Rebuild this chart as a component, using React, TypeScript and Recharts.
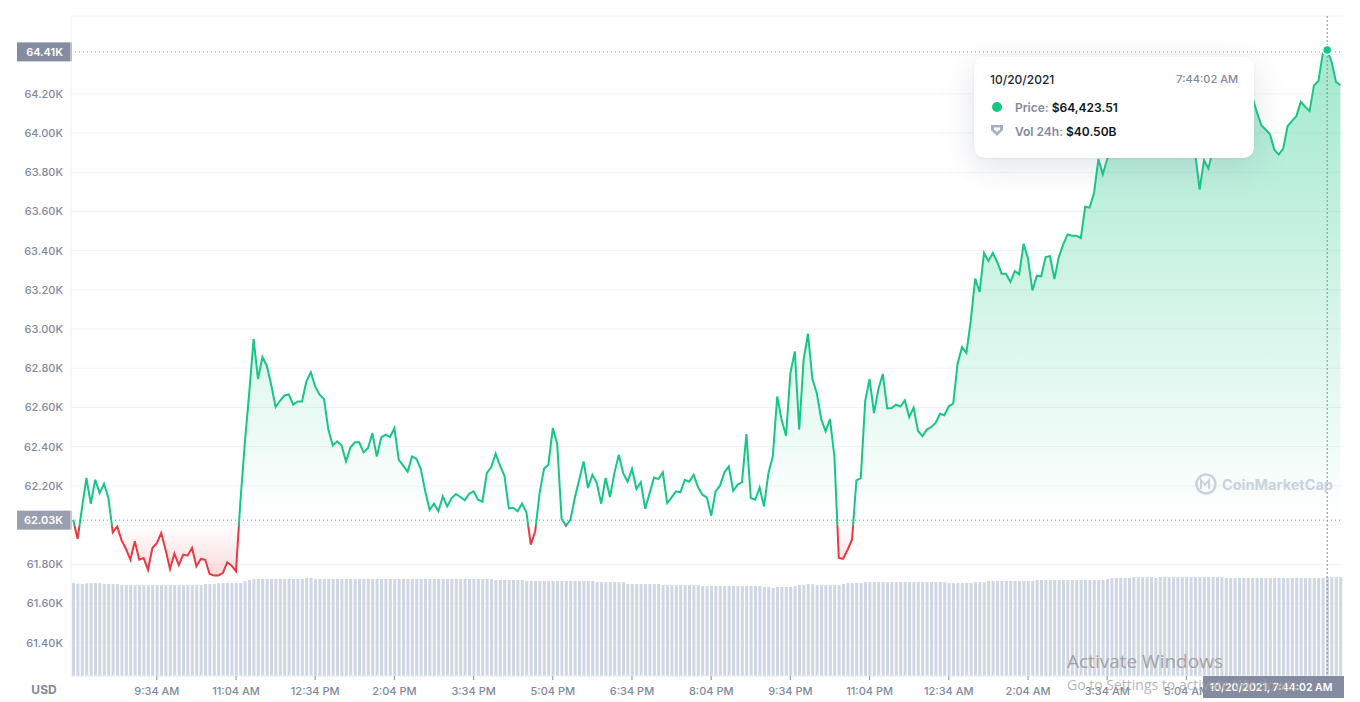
import { Area, Bar, CartesianGrid, ComposedChart, ReferenceLine, Tooltip, XAxis, YAxis } from 'recharts';

// BTC price, one reading every 5 minutes (USD). The stretch behind the tooltip is a guess.
const prices = [
  62027, 61929, 62087, 62240, 62109, 62231, 62163, 62211, 62138, 61963,
  61993, 61922, 61878, 61823, 61917, 61823, 61832, 61772, 61883, 61908,
  61959, 61874, 61776, 61854, 61796, 61849, 61844, 61883, 61789, 61827,
  61823, 61750, 61743, 61743, 61755, 61810, 61793, 61764, 62121, 62418,
  62673, 62949, 62745, 62857, 62813, 62716, 62602, 62634, 62661, 62666,
  62614, 62631, 62631, 62733, 62780, 62707, 62665, 62643, 62486, 62406,
  62427, 62406, 62325, 62396, 62422, 62422, 62371, 62393, 62469, 62350,
  62447, 62461, 62449, 62495, 62333, 62303, 62272, 62350, 62338, 62286,
  62172, 62078, 62109, 62070, 62146, 62095, 62138, 62158, 62143, 62126,
  62160, 62172, 62129, 62119, 62265, 62296, 62364, 62303, 62253, 62085,
  62088, 62071, 62110, 62065, 61900, 61968, 62163, 62287, 62308, 62495,
  62415, 62031, 61997, 62027, 62138, 62231, 62325, 62189, 62257, 62214,
  62109, 62240, 62143, 62265, 62359, 62265, 62221, 62286, 62184, 62219,
  62083, 62163, 62243, 62235, 62269, 62112, 62141, 62172, 62167, 62231,
  62221, 62257, 62194, 62155, 62141, 62048, 62172, 62201, 62269, 62299,
  62175, 62206, 62219, 62464, 62138, 62129, 62192, 62095, 62265, 62350,
  62656, 62537, 62456, 62775, 62886, 62486, 62843, 62976, 62745, 62673,
  62541, 62478, 62541, 62350, 61832, 61828, 61874, 61925, 62228, 62240,
  62634, 62745, 62571, 62694, 62770, 62595, 62597, 62614, 62605, 62636,
  62551, 62599, 62480, 62454, 62487, 62500, 62521, 62568, 62560, 62606,
  62619, 62823, 62908, 62878, 63044, 63257, 63189, 63388, 63347, 63388,
  63342, 63282, 63282, 63240, 63296, 63279, 63435, 63359, 63197, 63272,
  63269, 63367, 63372, 63255, 63367, 63432, 63483, 63476, 63476, 63464,
  63624, 63620, 63692, 63867, 63789, 63867, 63921, 63964, 63998, 64040,
  64023, 64066, 64100, 64074, 64117, 64142, 64117, 64134, 64100, 64125,
  64083, 64049, 64015, 63981, 63955, 63896, 63712, 63862, 63819, 63913,
  63964, 64006, 64049, 64083, 64117, 64151, 64176, 64193, 64181, 64108,
  64040, 64018, 63994, 63913, 63891, 63921, 64035, 64062, 64086, 64159,
  64134, 64112, 64244, 64265, 64406, 64423.51, 64363, 64261, 64244,
];

// 24h volume in billions
const volumes = [
  38.0, 37.8, 37.6, 37.9, 38.0, 38.0, 38.0, 37.7, 37.7, 37.6,
  37.6, 37.2, 37.2, 37.2, 37.2, 37.2, 37.2, 37.2, 37.2, 37.2,
  37.2, 37.2, 37.2, 37.2, 37.2, 37.2, 37.2, 37.2, 37.2, 37.2,
  37.6, 37.6, 37.6, 38.0, 38.0, 38.0, 38.0, 38.0, 38.0, 38.9,
  39.3, 39.7, 39.7, 39.7, 39.7, 39.7, 39.7, 39.7, 39.7, 39.7,
  39.7, 39.7, 39.7, 40.1, 40.1, 39.7, 39.7, 39.7, 39.7, 39.7,
  39.7, 39.7, 39.7, 39.7, 39.7, 39.7, 39.7, 39.7, 39.7, 39.7,
  39.7, 39.7, 39.7, 39.7, 39.7, 39.7, 39.7, 39.7, 39.7, 39.7,
  39.7, 39.7, 39.7, 39.7, 39.7, 39.7, 39.7, 39.7, 39.7, 39.7,
  39.7, 39.7, 39.7, 39.7, 39.7, 39.7, 39.3, 39.3, 39.3, 39.3,
  39.3, 39.3, 39.3, 38.9, 38.9, 38.9, 38.9, 38.9, 38.9, 38.9,
  38.9, 38.9, 38.9, 38.9, 38.9, 38.9, 38.9, 38.9, 38.9, 38.4,
  38.4, 38.4, 38.4, 38.4, 38.4, 38.4, 37.6, 37.6, 37.6, 37.6,
  37.6, 37.6, 37.6, 37.6, 37.2, 37.2, 37.2, 37.2, 37.2, 37.2,
  37.2, 37.2, 37.2, 36.8, 36.8, 36.8, 36.8, 36.8, 36.8, 36.8,
  36.8, 36.8, 36.8, 36.8, 36.8, 36.8, 36.8, 36.4, 36.4, 36.0,
  36.4, 36.4, 36.4, 36.4, 36.8, 37.2, 37.2, 37.6, 37.6, 37.2,
  37.2, 37.2, 37.2, 37.2, 37.2, 37.6, 38.0, 38.0, 38.0, 38.0,
  38.4, 38.4, 38.4, 38.4, 38.4, 38.4, 38.4, 38.4, 38.4, 38.4,
  38.4, 38.4, 38.4, 38.4, 38.4, 38.4, 38.4, 38.4, 38.4, 38.0,
  38.0, 38.0, 38.0, 38.0, 38.0, 38.4, 38.4, 38.4, 38.9, 38.9,
  38.9, 38.9, 38.9, 38.9, 38.9, 38.9, 38.9, 38.9, 38.9, 39.3,
  39.3, 39.3, 39.3, 39.3, 39.3, 39.3, 39.3, 39.3, 39.3, 39.3,
  39.3, 39.3, 39.3, 39.3, 39.3, 39.7, 40.1, 40.1, 40.1, 40.1,
  40.1, 40.5, 40.5, 40.5, 40.5, 40.5, 40.1, 40.5, 40.5, 40.5,
  40.5, 40.5, 40.5, 40.5, 40.5, 40.5, 40.5, 40.5, 40.5, 40.5,
  40.5, 40.5, 40.1, 40.1, 40.1, 40.1, 40.1, 40.1, 40.1, 40.1,
  40.1, 40.1, 40.1, 40.1, 40.1, 40.1, 40.1, 40.1, 40.1, 40.1,
  40.1, 40.1, 40.1, 40.1, 40.1, 40.50, 40.5, 40.5, 40.5,
];

const priceTicks = [61400, 61600, 61800, 62000, 62200, 62400, 62600, 62800, 63000, 63200, 63400, 63600, 63800, 64000, 64200, 64400];
const timeSlots = [19, 37, 55, 73, 91, 109, 127, 145, 163, 181, 199, 217, 235, 253, 271];
const timeLabels = ['9:34 AM', '11:04 AM', '12:34 PM', '2:04 PM', '3:34 PM', '5:04 PM', '6:34 PM', '8:04 PM', '9:34 PM', '11:04 PM', '12:34 AM', '2:04 AM', '3:34 AM', '5:04 AM', '6:34 AM'];

const openPrice = 62025;
const highLabelPrice = 64414;
const hoverSlot = 285;

const chartData = prices.map((price, slot) => ({ slot, price, volume: volumes[slot] }));

const FONT = 'Inter, "Noto Sans", sans-serif';
const GREY = '#808a9d';
const GREEN = '#16c784';
const RED = '#ea3943';
const BADGE = '#858ca2';

const tickStyle = { fill: GREY, fontSize: 11, fontWeight: 500, fontFamily: FONT };

function PriceBadge({ viewBox, text, fill }: any) {
  const y = viewBox.y;
  return (
    <g>
      <rect x={17} y={y - 9.5} width={55} height={19} fill={fill} />
      <text x={63} y={y + 4} textAnchor="end" fill="#fff" fontSize={11} fontWeight={600} fontFamily={FONT}>{text}</text>
    </g>
  );
}

function HoverCard({ active, payload }: any) {
  if (!active || !payload || !payload.length) return null;
  const row = payload[0].payload;
  const label = { color: GREY, fontWeight: 600 };
  const value = { color: '#0d1421', fontWeight: 600 };
  return (
    <div style={{ width: 280, height: 101, boxSizing: 'border-box', background: '#fff', borderRadius: 10, boxShadow: '0 1px 2px rgba(128,138,157,0.12), 0 8px 32px rgba(128,138,157,0.24)', fontFamily: FONT, fontSize: 12, position: 'relative' }}>
      <div style={{ position: 'absolute', left: 16, top: 15, color: '#222531', fontWeight: 500 }}>10/20/2021</div>
      <div style={{ position: 'absolute', right: 16, top: 15, color: GREY, fontWeight: 500, fontSize: 11 }}>7:44:02 AM</div>
      <div style={{ position: 'absolute', left: 18, top: 45, width: 10, height: 10, borderRadius: 5, background: GREEN }} />
      <div style={{ position: 'absolute', left: 41, top: 43 }}>
        <span style={label}>Price: </span>
        <span style={value}>${row.price.toLocaleString('en-US', { minimumFractionDigits: 2 })}</span>
      </div>
      <svg style={{ position: 'absolute', left: 16, top: 67 }} width={14} height={14} viewBox="0 0 14 14">
        <path d="M1 1 H13 V6 L7 12 L1 6 Z" fill="#a6b0c3" />
        <path d="M4 3.5 H10 V5.5 L7 8 L4 5.5 Z" fill="#fff" />
      </svg>
      <div style={{ position: 'absolute', left: 41, top: 67 }}>
        <span style={label}>Vol 24h: </span>
        <span style={value}>${row.volume.toFixed(2)}B</span>
      </div>
    </div>
  );
}

export default function App() {
  return (
    <div style={{ position: 'absolute', left: 0, top: 0, width: 1360, height: 702, overflow: 'hidden', background: '#fff' }}>
      <ComposedChart width={1360} height={702} data={chartData} margin={{ top: 16, right: 17.4, bottom: 0, left: 0 }} barCategoryGap={0}>
        <defs>
          <linearGradient id="lineSplit" gradientUnits="userSpaceOnUse" x1="0" y1="0" x2="0" y2="702">
            <stop offset={524 / 702} stopColor={GREEN} />
            <stop offset={527 / 702} stopColor={RED} />
          </linearGradient>
          <linearGradient id="fillSplit" gradientUnits="userSpaceOnUse" x1="0" y1="49" x2="0" y2="577">
            <stop offset={0} stopColor={GREEN} stopOpacity={0.4} />
            <stop offset={472 / 528} stopColor={GREEN} stopOpacity={0} />
            <stop offset={476 / 528} stopColor={RED} stopOpacity={0} />
            <stop offset={1} stopColor={RED} stopOpacity={0.2} />
          </linearGradient>
        </defs>
        <CartesianGrid yAxisId="price" vertical={false} stroke="#eff2f5" />
        <XAxis
          dataKey="slot"
          height={26}
          ticks={timeSlots}
          interval={0}
          tickFormatter={(slot: number) => timeLabels[timeSlots.indexOf(slot)]}
          tick={tickStyle}
          tickSize={4}
          tickMargin={7}
          tickLine={{ stroke: GREY }}
          axisLine={{ stroke: '#eff2f5' }}
        />
        <YAxis
          yAxisId="price"
          width={71}
          domain={[61230, 64597]}
          ticks={priceTicks}
          interval={0}
          tickFormatter={(v: number) => (v === 62000 || v === 64400 ? '' : (v / 1000).toFixed(2) + 'K')}
          tick={tickStyle}
          tickLine={false}
          tickMargin={8}
          tickSize={0}
          axisLine={{ stroke: '#eff2f5' }}
        />
        <YAxis yAxisId="volume" hide domain={[0, 270]} />
        <Bar yAxisId="volume" dataKey="volume" fill="#cfd6e4" barSize={3} isAnimationActive={false} />
        <Area
          yAxisId="price"
          type="linear"
          dataKey="price"
          baseValue={openPrice}
          stroke="url(#lineSplit)"
          strokeWidth={2}
          fill="url(#fillSplit)"
          fillOpacity={1}
          dot={false}
          activeDot={{ r: 4.5, fill: GREEN, stroke: '#fff', strokeWidth: 1.5 }}
          isAnimationActive={false}
        />
        <ReferenceLine
          yAxisId="price"
          y={highLabelPrice}
          stroke="#8a8f99"
          strokeDasharray="1 3"
          label={<PriceBadge text="64.41K" fill={BADGE} />}
        />
        <ReferenceLine
          yAxisId="price"
          y={openPrice}
          stroke="#8a8f99"
          strokeDasharray="1 3"
          label={<PriceBadge text="62.03K" fill="#9a9faf" />}
        />
        <Tooltip
          active
          defaultIndex={hoverSlot}
          position={{ x: 974, y: 57 }}
          allowEscapeViewBox={{ x: true, y: true }}
          isAnimationActive={false}
          cursor={{ stroke: BADGE, strokeDasharray: '2 2', strokeWidth: 1 }}
          content={<HoverCard />}
        />
      </ComposedChart>
      <svg width={1360} height={702} style={{ position: 'absolute', left: 0, top: 0, pointerEvents: 'none' }}>
        <text x={44} y={694} textAnchor="middle" fill={GREY} fontSize={12} fontWeight={700} fontFamily={FONT}>USD</text>
        <rect x={1203} y={676} width={141} height={22} fill={BADGE} />
        <text x={1271} y={691} textAnchor="middle" fill="#fff" fontSize={10.5} fontWeight={600} fontFamily={FONT}>10/20/2021, 7:44:02 AM</text>
        <circle cx={1206} cy={484} r={9.5} fill="none" stroke="#c9d3e0" strokeWidth={2.5} />
        <path d="M1201 489 V480 L1205 485 L1209 480 V489" fill="none" stroke="#c9d3e0" strokeWidth={2} />
        <text x={1222} y={490} fill="#c9d3e0" fontSize={14.5} fontWeight={700} fontFamily={FONT}>CoinMarketCap</text>
        <text x={1067} y={668} fill="#a3a3a3" fontSize={19} fontFamily='"Open Sans", sans-serif'>Activate Windows</text>
        <text x={1067} y={690} fill="#a3a3a3" fillOpacity={0.8} fontSize={14} fontFamily='"Open Sans", sans-serif'>Go to Settings to activate Windows.</text>
      </svg>
    </div>
  );
}
